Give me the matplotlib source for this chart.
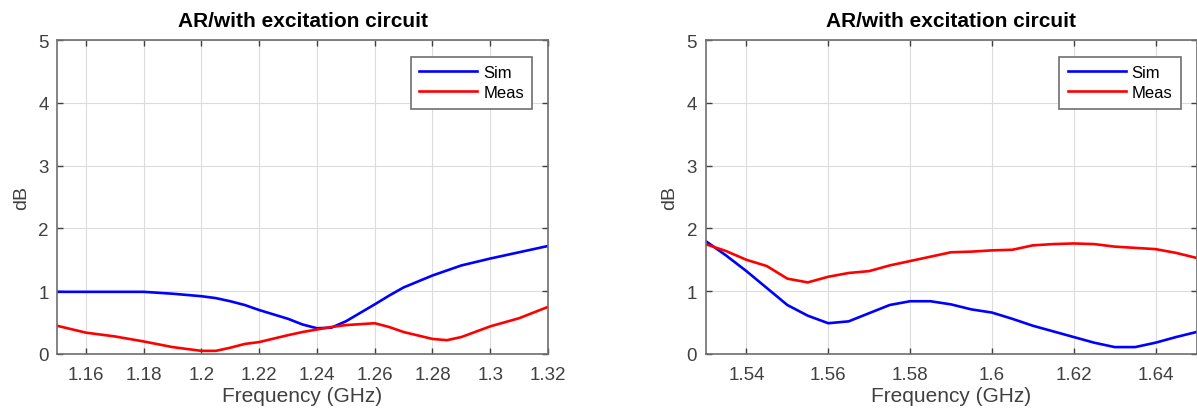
import matplotlib
matplotlib.use('Agg')
import matplotlib.pyplot as plt

plt.rcParams['font.family'] = ['Liberation Sans', 'DejaVu Sans']

# left panel (L band low)
freq_l = [1.15, 1.16, 1.17, 1.18, 1.19, 1.20, 1.205, 1.21, 1.215, 1.22, 1.23, 1.235,
          1.24, 1.245, 1.25, 1.26, 1.265, 1.27, 1.28, 1.285, 1.29, 1.30, 1.31, 1.32]
sim_l = [0.99, 0.99, 0.99, 0.99, 0.96, 0.92, 0.89, 0.84, 0.78, 0.70, 0.56, 0.47,
         0.41, 0.42, 0.52, 0.79, 0.93, 1.06, 1.25, 1.33, 1.41, 1.52, 1.62, 1.72]
meas_l = [0.45, 0.34, 0.28, 0.20, 0.11, 0.05, 0.05, 0.10, 0.16, 0.19, 0.30, 0.35,
          0.39, 0.43, 0.46, 0.49, 0.43, 0.35, 0.24, 0.22, 0.27, 0.44, 0.57, 0.75]

# right panel (L band high)
freq_r = [1.53, 1.535, 1.54, 1.545, 1.55, 1.555, 1.56, 1.565, 1.57, 1.575, 1.58, 1.585,
          1.59, 1.595, 1.60, 1.605, 1.61, 1.615, 1.62, 1.625, 1.63, 1.635, 1.64, 1.645, 1.65]
sim_r = [1.80, 1.57, 1.32, 1.05, 0.78, 0.61, 0.49, 0.52, 0.65, 0.78, 0.84, 0.84,
         0.79, 0.71, 0.66, 0.56, 0.45, 0.36, 0.27, 0.18, 0.11, 0.11, 0.18, 0.27, 0.35]
meas_r = [1.75, 1.64, 1.50, 1.40, 1.20, 1.14, 1.23, 1.29, 1.32, 1.41, 1.48, 1.55,
          1.62, 1.63, 1.65, 1.66, 1.73, 1.75, 1.76, 1.75, 1.71, 1.69, 1.67, 1.61, 1.53]

xticks_l = [1.16, 1.18, 1.20, 1.22, 1.24, 1.26, 1.28, 1.30, 1.32]
xtlabels_l = ['1.16', '1.18', '1.2', '1.22', '1.24', '1.26', '1.28', '1.3', '1.32']
xticks_r = [1.54, 1.56, 1.58, 1.60, 1.62, 1.64]
xtlabels_r = ['1.54', '1.56', '1.58', '1.6', '1.62', '1.64']
yticks = [0, 1, 2, 3, 4, 5]

fig = plt.figure(figsize=(11.97, 4.14), dpi=100)
ax1 = fig.add_axes([57 / 1197, 1 - 355 / 414, 491 / 1197, 314 / 414])
ax2 = fig.add_axes([705.5 / 1197, 1 - 355 / 414, 491 / 1197, 314 / 414])


def style(ax, freq, sim, meas, xlim, xticks, xtlabels):
    ax.plot(freq, sim, color='#0000ff', lw=1.9, label='Sim')
    ax.plot(freq, meas, color='#ff0000', lw=1.9, label='Meas')
    ax.set_xlim(*xlim)
    ax.set_ylim(0, 5)
    ax.set_xticks(xticks)
    ax.set_xticklabels(xtlabels)
    ax.set_yticks(yticks)
    ax.grid(True, color='#dcdcdc', lw=0.8)
    ax.set_axisbelow(True)
    for s in ax.spines.values():
        s.set_color('#6e6e6e')
        s.set_linewidth(1.2)
    ax.tick_params(direction='in', length=4, width=1, colors='#404040',
                   labelsize=13.5, top=True, right=True)
    ax.tick_params(axis='x', pad=9)
    ax.tick_params(axis='y', pad=6)
    ax.set_title('AR/with excitation circuit', fontsize=15, fontweight='bold', pad=10)
    ax.set_xlabel('Frequency (GHz)', fontsize=15, color='#404040', labelpad=2)
    ax.set_ylabel('dB', fontsize=14, color='#404040', labelpad=6)
    leg = ax.legend(loc='upper right', bbox_to_anchor=(0.968, 0.946), fontsize=12,
                    fancybox=False, framealpha=1, edgecolor='#6e6e6e',
                    handlelength=3.5, handletextpad=0.35, borderpad=0.5,
                    labelspacing=0.3, borderaxespad=0)
    leg.get_frame().set_linewidth(1.2)


style(ax1, freq_l, sim_l, meas_l, (1.15, 1.32), xticks_l, xtlabels_l)
style(ax2, freq_r, sim_r, meas_r, (1.53, 1.65), xticks_r, xtlabels_r)

fig.savefig('out.png', dpi=100)
